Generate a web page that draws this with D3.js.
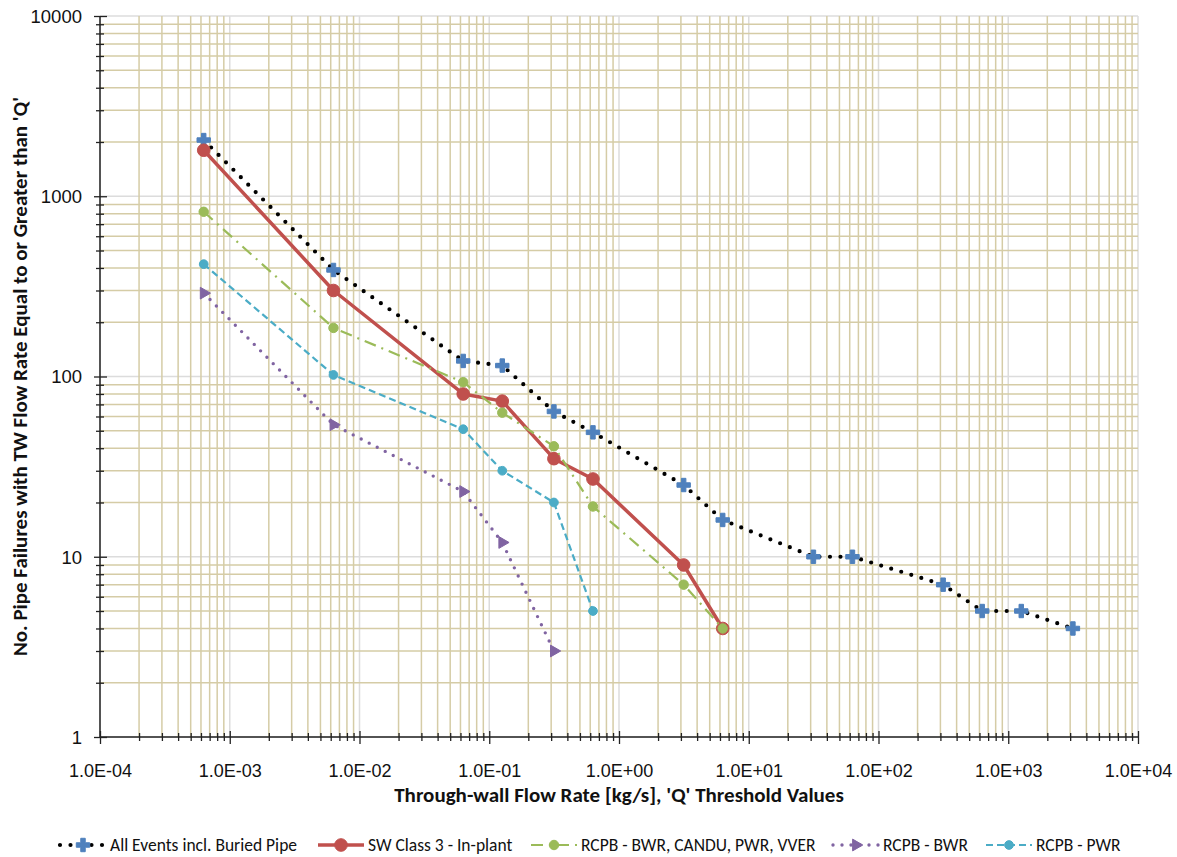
<!DOCTYPE html>
<html>
<head>
<meta charset="utf-8">
<script src="https://cdn.jsdelivr.net/npm/d3@7"></script>
<style>
  html, body { margin: 0; padding: 0; background: #ffffff; }
  svg { display: block; font-family: Carlito, Lato, "Open Sans", sans-serif; }
</style>
</head>
<body>
<svg id="chart" width="1177" height="857"></svg>
<script>
// Through-wall flow rate thresholds Q [kg/s]
const flowQ = [6.3e-4, 6.3e-3, 6.3e-2, 0.126, 0.315, 0.63, 3.15, 6.3, 31.5, 63, 315, 630, 1260, 3150];

// Number of pipe failures with flow rate >= Q, per data set
const allEvents = [2050, 390, 122, 115, 64, 49, 25, 16, 10, 10, 7, 5, 5, 4];
const swClass3  = [1800, 300, 80, 73, 35, 27, 9, 4];
const rcpbAll   = [820, 186, 93, 63, 41, 19, 7, 4];
const rcpbBwr   = [290, 54, 23, 12, 3];
const rcpbPwr   = [420, 102, 51, 30, 20, 5];

const seriesNames = [
  "All Events incl. Buried Pipe",
  "SW Class 3 - In-plant",
  "RCPB - BWR, CANDU, PWR, VVER",
  "RCPB - BWR",
  "RCPB - PWR"
];

// Axis tick labels
const xTickValues = [1e-4, 1e-3, 1e-2, 1e-1, 1e0, 1e1, 1e2, 1e3, 1e4];
const xTickLabels = ["1.0E-04", "1.0E-03", "1.0E-02", "1.0E-01", "1.0E+00", "1.0E+01", "1.0E+02", "1.0E+03", "1.0E+04"];
const yTickValues = [1, 10, 100, 1000, 10000];
const yTickLabels = ["1", "10", "100", "1000", "10000"];

const xTitle = "Through-wall Flow Rate [kg/s], 'Q' Threshold Values";
const yTitle = "No. Pipe Failures with TW Flow Rate Equal to or Greater than 'Q'";

const svg = d3.select("#chart");
const plotL = 100, plotR = 1138, plotT = 16, plotB = 737;

const x = d3.scaleLog().domain([1e-4, 1e4]).range([plotL, plotR]);
const y = d3.scaleLog().domain([1, 1e4]).range([plotB, plotT]);

// minor (2..9) positions inside each decade
function logMinor(lo, hi) {
  const out = [];
  for (let d = lo; d < hi * 0.999; d *= 10)
    for (let k = 2; k <= 9; k++) out.push(k * d);
  return out;
}
const xMinor = logMinor(1e-4, 1e4);
const yMinor = logMinor(1, 1e4);

const grid = svg.append("g");
const minorColor = "#d5cca6", majorColor = "#dcdcdc";

grid.selectAll(".vmaj").data(xTickValues).join("line")
  .attr("x1", d => x(d)).attr("x2", d => x(d)).attr("y1", plotT).attr("y2", plotB)
  .attr("stroke", majorColor).attr("stroke-width", 1.5);
grid.selectAll(".hmaj").data(yTickValues).join("line")
  .attr("y1", d => y(d)).attr("y2", d => y(d)).attr("x1", plotL).attr("x2", plotR)
  .attr("stroke", majorColor).attr("stroke-width", 1.5);
grid.selectAll(".vmin").data(xMinor).join("line")
  .attr("x1", d => x(d)).attr("x2", d => x(d)).attr("y1", plotT).attr("y2", plotB)
  .attr("stroke", minorColor).attr("stroke-width", 1.5);
grid.selectAll(".hmin").data(yMinor).join("line")
  .attr("y1", d => y(d)).attr("y2", d => y(d)).attr("x1", plotL).attr("x2", plotR)
  .attr("stroke", minorColor).attr("stroke-width", 1.5);

// Axes
const xLabelOf = new Map(xTickValues.map((v, i) => [v, xTickLabels[i]]));
const yLabelOf = new Map(yTickValues.map((v, i) => [v, yTickLabels[i]]));

const xAxis = d3.axisBottom(x)
  .tickValues(xTickValues.concat(xMinor))
  .tickFormat(d => xLabelOf.get(d) || "")
  .tickSizeOuter(0);
const gx = svg.append("g").attr("transform", `translate(0,${plotB})`).call(xAxis);
gx.select(".domain").attr("stroke", "#222").attr("stroke-width", 1.5).attr("d", `M${plotL},0H${plotR}`);
gx.selectAll(".tick line").attr("stroke", "#222").attr("stroke-width", 1.3)
  .attr("y1", d => xLabelOf.has(d) ? -6 : -4).attr("y2", d => xLabelOf.has(d) ? 7 : 4);
gx.selectAll(".tick text").attr("y", 40).attr("dy", 0)
  .attr("fill", "#111").attr("font-size", 18);

const yAxis = d3.axisLeft(y)
  .tickValues(yTickValues.concat(yMinor))
  .tickFormat(d => yLabelOf.get(d) || "")
  .tickSizeOuter(0);
const gy = svg.append("g").attr("transform", `translate(${plotL},0)`).call(yAxis);
gy.select(".domain").attr("stroke", "#222").attr("stroke-width", 1.5).attr("d", `M0,${plotT}V${plotB}`);
gy.selectAll(".tick line").attr("stroke", "#222").attr("stroke-width", 1.3)
  .attr("x1", d => yLabelOf.has(d) ? 7 : 4).attr("x2", d => yLabelOf.has(d) ? -6 : -4);
gy.selectAll(".tick text").attr("x", -18).attr("dy", "0.35em")
  .attr("fill", "#111").attr("font-size", 18.5);

// Axis titles
svg.append("text")
  .attr("x", (plotL + plotR) / 2).attr("y", 802)
  .attr("text-anchor", "middle").attr("font-size", 21).attr("font-weight", "bold")
  .attr("fill", "#111").text(xTitle);
svg.append("text")
  .attr("transform", `translate(27,${(plotT + plotB) / 2}) rotate(-90)`)
  .attr("text-anchor", "middle").attr("font-size", 21).attr("font-weight", "bold")
  .attr("fill", "#111").text(yTitle);

// Series styling
const styles = [
  { color: "#000000", width: 4.2, dash: "0 10.5", cap: "round", marker: "cross", mcolor: "#4f81bd", msize: 100 },
  { color: "#c0504d", width: 3.5, dash: null, cap: "butt", marker: "circle", mcolor: "#c0504d", msize: 125 },
  { color: "#9bbb59", width: 2.2, dash: "12 6 2 6", cap: "butt", marker: "circle", mcolor: "#9bbb59", msize: 70 },
  { color: "#8064a2", width: 3.4, dash: "0 9", cap: "round", marker: "triangle", mcolor: "#8064a2", msize: 60 },
  { color: "#4bacc6", width: 2.2, dash: "7 4", cap: "butt", marker: "circle", mcolor: "#4bacc6", msize: 60 }
];
const seriesValues = [allEvents, swClass3, rcpbAll, rcpbBwr, rcpbPwr];
const symbolOf = { cross: d3.symbolCross, circle: d3.symbolCircle, triangle: d3.symbolTriangle };

const line = d3.line().x(d => x(d.q)).y(d => y(d.n));
const plot = svg.append("g");

seriesValues.forEach((vals, i) => {
  const st = styles[i];
  const pts = vals.map((n, j) => ({ q: flowQ[j], n }));
  plot.append("path").datum(pts)
    .attr("fill", "none").attr("stroke", st.color).attr("stroke-width", st.width)
    .attr("stroke-linecap", st.cap).attr("stroke-linejoin", "round")
    .attr("stroke-dasharray", st.dash).attr("d", line);
  plot.selectAll(null).data(pts).join("path")
    .attr("transform", d => `translate(${x(d.q)},${y(d.n)})` + (st.marker === "triangle" ? " rotate(90)" : ""))
    .attr("d", d3.symbol().type(symbolOf[st.marker]).size(st.msize))
    .attr("fill", st.mcolor).attr("stroke", st.mcolor).attr("stroke-width", 1)
    .attr("stroke-linejoin", "round");
});

// Legend
const legendStarts = [60, 318, 531, 833, 986];
const legendY = 845;
const legend = svg.append("g");
seriesNames.forEach((name, i) => {
  const st = styles[i];
  const x0 = legendStarts[i], w = 46;
  const g = legend.append("g");
  g.append("line").attr("x1", x0).attr("x2", x0 + w).attr("y1", legendY).attr("y2", legendY)
    .attr("stroke", st.color).attr("stroke-width", st.width)
    .attr("stroke-linecap", st.cap).attr("stroke-dasharray", st.dash);
  g.append("path")
    .attr("transform", `translate(${x0 + w / 2},${legendY})` + (st.marker === "triangle" ? " rotate(90)" : ""))
    .attr("d", d3.symbol().type(symbolOf[st.marker]).size(st.msize))
    .attr("fill", st.mcolor).attr("stroke", st.mcolor).attr("stroke-width", 1);
  g.append("text").attr("x", x0 + w + 4).attr("y", legendY).attr("dy", "0.35em")
    .attr("font-size", 17.5).attr("fill", "#111").text(name);
});
</script>
</body>
</html>
